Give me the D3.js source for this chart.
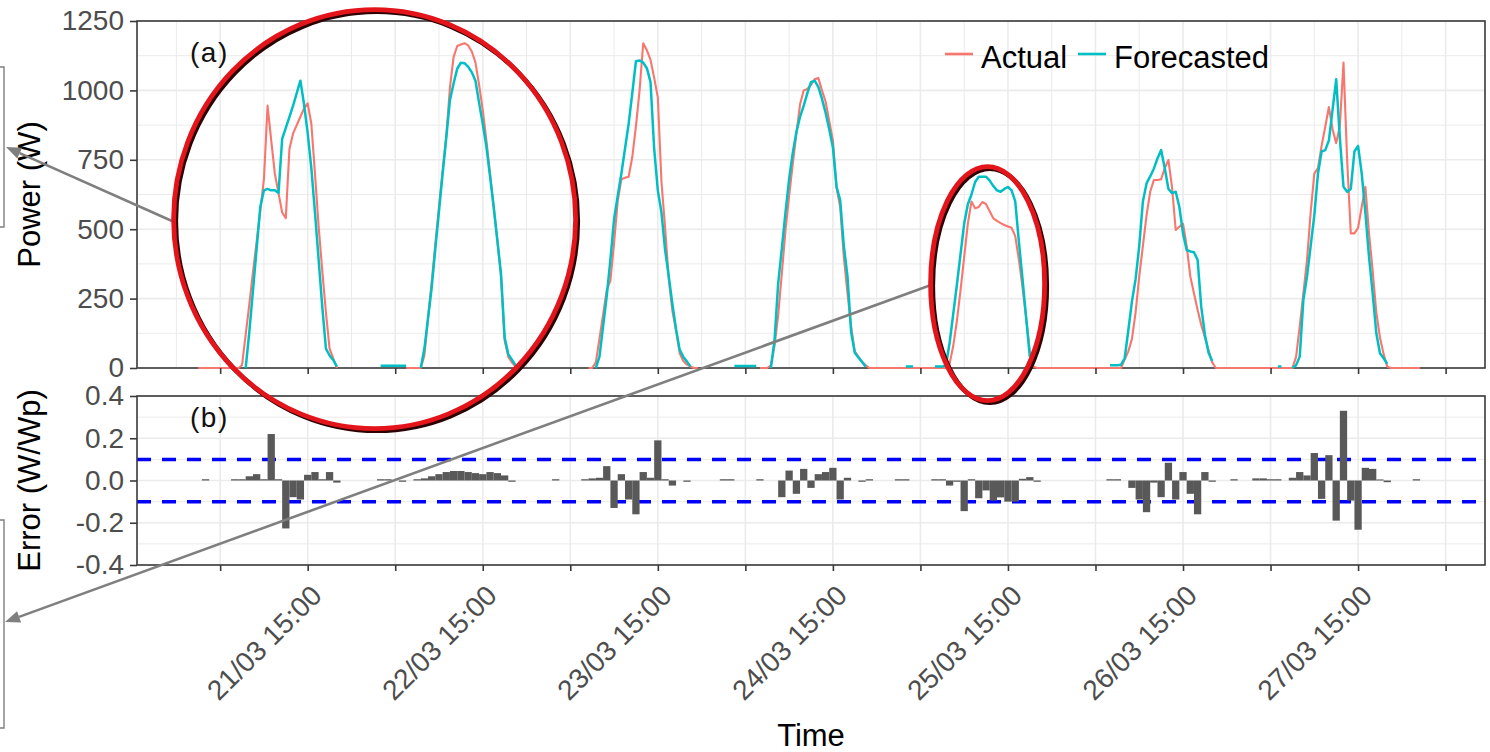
<!DOCTYPE html>
<html>
<head>
<meta charset="utf-8">
<script src="https://cdn.jsdelivr.net/npm/d3@7"></script>
<style>
  body { margin: 0; background: #fff; }
  svg { display: block; }
  text { font-family: "Liberation Sans", Arial, sans-serif; }
</style>
</head>
<body>
<svg id="chart" width="1490" height="752"></svg>
<script>
const _ = null;

// Half-hourly PV power (W), one array per day, 00:00 -> 23:30
const actual21 = [0,0,0,0,0,0,0,0,0,0,0,0,10,120,230,345,455,565,680,945,820,700,630,560,540,790,845,875,905,935,953,880,700,510,350,200,70,35,0,_,_,_,_,_,_,_,_,_];
const actual22 = [_,_,_,_,_,_,_,_,_,0,0,0,0,0,45,180,310,445,580,710,835,1010,1120,1160,1165,1170,1162,1140,1100,1020,930,820,700,580,460,330,100,40,20,5,0,_,_,_,_,_,_,_];
const actual23 = [_,_,_,_,_,_,_,_,_,_,_,0,0,20,105,193,281,315,450,600,680,685,689,760,870,1000,1170,1145,1110,1045,975,670,505,320,205,135,53,25,12,5,0,0,_,_,_,_,_,_];
const actual24 = [_,_,_,_,_,_,_,_,_,_,0,0,0,10,80,190,340,495,620,735,845,950,1000,1005,1020,1040,1045,1000,960,890,820,650,580,400,270,150,60,41,22,10,0,0,0,0,0,0,0,0];
const actual25 = [0,0,0,0,0,0,0,0,0,0,0,0,0,0,15,80,170,280,400,520,600,575,580,598,590,565,539,530,522,515,510,505,475,390,290,180,60,5,0,0,0,0,0,0,0,0,0,0];
const actual26 = [0,0,0,0,0,0,0,0,0,0,0,0,0,0,30,60,105,200,330,440,550,635,677,677,680,720,749,650,497,509,520,440,330,269,210,155,110,65,20,0,0,0,0,0,0,0,0,0];
const actual27 = [0,0,0,0,0,0,0,0,0,0,0,0,0,40,150,269,390,560,700,720,800,869,940,860,810,870,1100,750,485,485,505,581,653,485,350,200,110,50,5,0,0,0,0,0,0,0,0,0];

const forecast21 = [_,_,_,_,_,_,_,_,_,_,_,_,_,0,130,280,430,580,640,645,640,640,630,825,865,905,945,990,1035,950,846,720,560,390,220,70,45,29,5,_,_,_,_,_,_,_,_,_];
const forecast22 = [_,_,8,8,8,8,8,8,8,8,_,_,_,0,70,180,290,430,565,700,830,965,1025,1078,1100,1098,1085,1065,1035,955,880,797,690,580,460,340,110,50,30,10,0,_,_,_,_,_,_,_];
const forecast23 = [_,_,_,_,_,_,_,_,_,_,_,_,_,0,41,150,260,390,535,620,700,790,880,990,1105,1108,1100,1080,1030,790,640,560,425,330,230,140,65,40,23,5,_,_,_,_,_,_,_,_];
const forecast24 = [_,_,_,7,7,7,7,7,7,7,_,_,_,0,100,305,430,560,680,775,850,905,945,990,1030,1035,1013,970,920,860,795,653,605,440,330,130,55,38,22,5,_,_,_,_,_,_,_,_];
const forecast25 = [_,_,5,5,5,_,_,_,_,_,5,5,5,10,90,195,300,410,520,590,625,670,689,689,689,675,655,640,635,645,652,640,600,455,320,180,40,_,_,_,_,_,_,_,_,_,_,_];
const forecast26 = [_,_,_,_,_,_,_,_,_,_,10,10,10,12,35,135,240,320,440,600,665,690,718,755,785,720,645,630,635,580,485,425,420,417,390,220,120,55,25,_,_,_,_,_,_,_,_,_];
const forecast27 = [_,_,_,_,_,_,_,_,5,5,_,_,0,10,41,245,330,440,550,700,780,785,820,930,1040,830,653,635,645,780,800,700,560,400,270,125,53,35,15,_,_,_,_,_,_,_,_,_];

// Hourly normalised forecast error (W/Wp), one array per day, 00:00 -> 23:00
const error21 = [_,.006,_,_,_,.006,.006,.02,.03,.006,.22,.006,-.227,-.079,-.09,.027,.04,.006,.04,-.01,_,_,_,_];
const error22 = [_,.006,.006,_,-.006,_,.006,.01,.02,.03,.04,.045,.045,.04,.035,.03,.04,.035,.024,-.006,_,_,_,_];
const error23 = [_,.006,_,_,_,.006,.01,.013,.068,-.13,.03,-.09,-.16,.04,.013,.19,.006,-.024,_,-.006,_,_,_,_];
const error24 = [.006,.006,_,_,_,.006,_,_,-.079,.047,-.063,.055,-.035,.03,.04,.06,-.09,.013,_,-.006,.006,_,_,_];
const error25 = [.006,.006,_,_,_,.006,.006,-.024,-.006,-.145,.006,-.084,-.047,-.095,-.08,-.1,-.1,.008,.016,-.006,_,_,_,_];
const error26 = [_,_,_,_,_,.006,.006,_,-.035,-.09,-.15,-.01,-.079,.084,-.09,.04,-.063,-.16,.04,-.006,_,_,.006,_];
const error27 = [_,.01,.01,.006,.006,_,.013,.04,.024,.13,-.087,.12,-.19,.33,-.095,-.233,.06,.055,.005,-.008,_,_,_,.006];

const powerTicks = [0, 250, 500, 750, 1000, 1250];
const errorTicks = [-0.4, -0.2, 0, 0.2, 0.4];
const errorLimits = [-0.1, 0.1];
const xTickLabels = ["21/03 15:00", "22/03 15:00", "23/03 15:00", "24/03 15:00", "25/03 15:00", "26/03 15:00", "27/03 15:00"];
const seriesNames = ["Actual", "Forecasted"];

// ---------------------------------------------------------------------------
const HOUR = 36e5;
const t0 = Date.UTC(2019, 2, 21, 0, 0);
const parseTick = s => d3.utcParse("%d/%m/%Y %H:%M")(s.replace(" ", "/2019 "));

function halfHourly(days) {
  return days.flatMap((arr, d) => arr.map((v, i) => ({ t: new Date(t0 + (d * 24 + i / 2) * HOUR), v })));
}
function hourly(days) {
  return days.flatMap((arr, d) => arr.map((v, i) => ({ t: new Date(t0 + (d * 24 + i) * HOUR), v })))
             .filter(p => p.v !== null);
}

const actual = halfHourly([actual21, actual22, actual23, actual24, actual25, actual26, actual27]);
const forecast = halfHourly([forecast21, forecast22, forecast23, forecast24, forecast25, forecast26, forecast27]);
const errors = hourly([error21, error22, error23, error24, error25, error26, error27]);

const L = 137, R = 1485;
const A = { top: 21, bottom: 368 };
const B = { top: 396, bottom: 565 };

// 5% padding either side of the week of data
const x = d3.scaleUtc()
  .domain([new Date(t0 - 8.4 * HOUR), new Date(t0 + (168 + 8.4) * HOUR)])
  .range([L, R]);
const yA = d3.scaleLinear().domain([0, 1250]).range([A.bottom, A.top]);
const yB = d3.scaleLinear().domain([-0.4, 0.4]).range([B.bottom, B.top]);

const svg = d3.select("#chart");
svg.append("rect").attr("width", 1490).attr("height", 752).attr("fill", "#fff");

// grid times: every 6 h starting 20/03 21:00, majors at 03:00 / 15:00
const [dStart, dEnd] = x.domain();
const gridTimes = d3.range(-3, 180, 6).map(h => new Date(t0 + h * HOUR)).filter(t => t >= dStart && t <= dEnd);
const isMajor = t => t.getUTCHours() % 12 === 3;
const majorTimes = gridTimes.filter(isMajor);

const gridColor = "#ebebeb";

// ---------- panel (a) ----------
const gA = svg.append("g");
gA.selectAll("line.h").data(d3.range(0, 1251, 125)).join("line")
  .attr("x1", L).attr("x2", R).attr("y1", d => yA(d)).attr("y2", d => yA(d))
  .attr("stroke", gridColor).attr("stroke-width", d => d % 250 === 0 ? 1.6 : 1);
gA.selectAll("line.v").data(gridTimes).join("line")
  .attr("x1", d => x(d)).attr("x2", d => x(d)).attr("y1", A.top).attr("y2", A.bottom)
  .attr("stroke", gridColor).attr("stroke-width", d => isMajor(d) ? 1.6 : 1);
gA.append("rect").attr("x", L).attr("y", A.top).attr("width", R - L).attr("height", A.bottom - A.top)
  .attr("fill", "none").attr("stroke", "#3a3a3a").attr("stroke-width", 1.6);

const line = d3.line().defined(d => d.v !== null).x(d => x(d.t)).y(d => yA(d.v));
gA.append("path").datum(actual).attr("d", line).attr("fill", "none")
  .attr("stroke", "#F8766D").attr("stroke-width", 2.1).attr("stroke-linejoin", "round");
gA.append("path").datum(forecast).attr("d", line).attr("fill", "none")
  .attr("stroke", "#00BFC4").attr("stroke-width", 2.5).attr("stroke-linejoin", "round");

const axA = gA.append("g").attr("transform", `translate(${L},0)`)
  .call(d3.axisLeft(yA).tickValues(powerTicks).tickSize(7).tickPadding(6).tickFormat(d => String(d)));
const axAx = gA.append("g").attr("transform", `translate(0,${A.bottom})`)
  .call(d3.axisBottom(x).tickValues(majorTimes).tickSize(6).tickFormat(() => ""));

gA.append("text").attr("x", 190).attr("y", 62).attr("font-size", 28).attr("letter-spacing", 1.5)
  .attr("fill", "#111").text("(a)");

// legend
const legend = gA.append("g");
const legendItems = [
  { name: seriesNames[0], color: "#F8766D", x: 945 },
  { name: seriesNames[1], color: "#00BFC4", x: 1078 }
];
legendItems.forEach(it => {
  legend.append("line").attr("x1", it.x).attr("x2", it.x + 28).attr("y1", 54).attr("y2", 54)
    .attr("stroke", it.color).attr("stroke-width", 2.6);
  legend.append("text").attr("x", it.x + 36).attr("y", 68).attr("font-size", 31)
    .attr("fill", "#000").text(it.name);
});

svg.append("text").attr("transform", `translate(40,${(A.top + A.bottom) / 2}) rotate(-90)`)
  .attr("text-anchor", "middle").attr("font-size", 31).attr("fill", "#000").text("Power (W)");

// ---------- panel (b) ----------
const gB = svg.append("g");
gB.selectAll("line.h").data(d3.range(-4, 5).map(k => k / 10)).join("line")
  .attr("x1", L).attr("x2", R).attr("y1", d => yB(d)).attr("y2", d => yB(d))
  .attr("stroke", gridColor).attr("stroke-width", (d, i) => i % 2 === 0 ? 1.6 : 1);
gB.selectAll("line.v").data(majorTimes).join("line")
  .attr("x1", d => x(d)).attr("x2", d => x(d)).attr("y1", B.top).attr("y2", B.bottom)
  .attr("stroke", gridColor).attr("stroke-width", 1.6);

gB.selectAll("line.lim").data(errorLimits).join("line")
  .attr("x1", L).attr("x2", R).attr("y1", d => yB(d)).attr("y2", d => yB(d))
  .attr("stroke", "#0000FF").attr("stroke-width", 3.5).attr("stroke-dasharray", "14 11");

gB.selectAll("rect.bar").data(errors).join("rect")
  .attr("x", d => x(new Date(+d.t - HOUR / 2)))
  .attr("width", d => x(new Date(+d.t + HOUR / 2)) - x(new Date(+d.t - HOUR / 2)))
  .attr("y", d => yB(Math.max(0, d.v)))
  .attr("height", d => Math.abs(yB(d.v) - yB(0)))
  .attr("fill", "#595959");

gB.append("rect").attr("x", L).attr("y", B.top).attr("width", R - L).attr("height", B.bottom - B.top)
  .attr("fill", "none").attr("stroke", "#3a3a3a").attr("stroke-width", 1.6);

const axB = gB.append("g").attr("transform", `translate(${L},0)`)
  .call(d3.axisLeft(yB).tickValues(errorTicks).tickSize(7).tickPadding(6).tickFormat(d => d.toFixed(1)));

const labelled = xTickLabels.map(s => ({ s, t: parseTick(s) }));
const axBx = gB.append("g").attr("transform", `translate(0,${B.bottom})`)
  .call(d3.axisBottom(x).tickValues(majorTimes).tickSize(6).tickFormat(() => ""));
gB.selectAll("text.xl").data(labelled).join("text")
  .attr("transform", d => `translate(${x(d.t) + 1.5},583) rotate(-45)`)
  .attr("text-anchor", "end").attr("dy", "0.72em").attr("font-size", 28).attr("fill", "#4d4d4d")
  .text(d => d.s);

gB.append("text").attr("x", 190).attr("y", 427).attr("font-size", 28).attr("letter-spacing", 1.5)
  .attr("fill", "#111").text("(b)");

svg.append("text").attr("transform", `translate(40,${(B.top + B.bottom) / 2}) rotate(-90)`)
  .attr("text-anchor", "middle").attr("font-size", 31).attr("fill", "#000").text("Error (W/Wp)");
svg.append("text").attr("x", (L + R) / 2).attr("y", 746).attr("text-anchor", "middle")
  .attr("font-size", 31).attr("fill", "#000").text("Time");

// axis styling
[axA, axAx, axB, axBx].forEach(g => {
  g.select(".domain").remove();
  g.selectAll(".tick line").attr("stroke", "#3a3a3a").attr("stroke-width", 1.6);
  g.selectAll(".tick text").attr("font-size", 28).attr("fill", "#4d4d4d")
    .attr("font-family", "'Liberation Sans', Arial, sans-serif");
});

// ---------- call-outs ----------
const ann = svg.append("g");
const grey = "#7f7f7f";
function arrow(x1, y1, x2, y2) {
  const dx = x2 - x1, dy = y2 - y1, len = Math.hypot(dx, dy);
  const ux = dx / len, uy = dy / len, nx = -uy, ny = ux;
  const hl = 15, hw = 6;
  const bx = x2 - ux * hl, by = y2 - uy * hl;
  ann.append("line").attr("x1", x1).attr("y1", y1).attr("x2", bx).attr("y2", by)
    .attr("stroke", grey).attr("stroke-width", 2.6);
  ann.append("path").attr("d", `M${x2},${y2}L${bx + nx * hw},${by + ny * hw}L${bx - nx * hw},${by - ny * hw}Z`)
    .attr("fill", grey);
}
ann.append("path").attr("d", "M0,67H4V227H0").attr("fill", "none").attr("stroke", grey).attr("stroke-width", 1.4);
ann.append("path").attr("d", "M0,520H4V728H0").attr("fill", "none").attr("stroke", grey).attr("stroke-width", 1.4);
arrow(172, 221, 6, 147);
arrow(931, 285, 5, 622);

// red call-out rings with a dark drop edge towards the lower right
function ring(cx, cy, rx, ry) {
  ann.append("ellipse").attr("cx", cx + 1.8).attr("cy", cy + 1.8).attr("rx", rx).attr("ry", ry)
    .attr("fill", "none").attr("stroke", "#2b0303").attr("stroke-width", 4.6);
  ann.append("ellipse").attr("cx", cx - 0.4).attr("cy", cy - 0.4).attr("rx", rx).attr("ry", ry)
    .attr("fill", "none").attr("stroke", "#e3151b").attr("stroke-width", 4.8);
}
ring(375, 219.5, 201, 209.5);
ring(988, 284, 57, 117);
</script>
</body>
</html>
